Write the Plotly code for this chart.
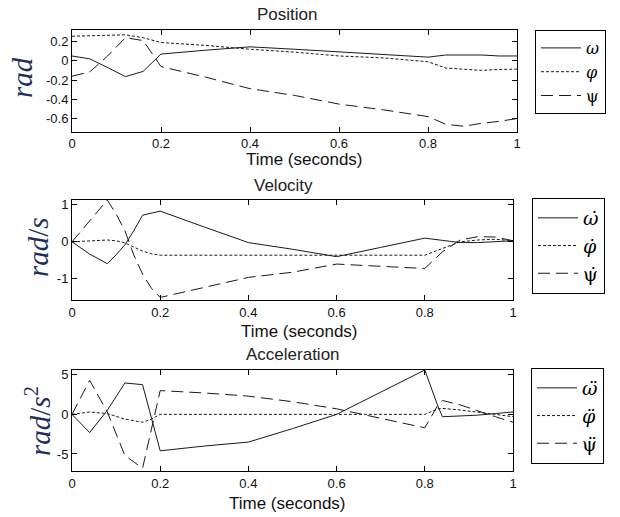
import plotly.graph_objects as go

# ---------------- data ----------------
t_pos = [0, 0.04, 0.08, 0.12, 0.16, 0.2, 0.3, 0.4, 0.5, 0.6, 0.7, 0.8, 0.84, 0.88, 0.92, 0.96, 1.0]
omega = [0.05, 0.02, -0.07, -0.165, -0.11, 0.07, 0.11, 0.145, 0.12, 0.095, 0.07, 0.038, 0.06, 0.06, 0.06, 0.05, 0.05]
phi = [0.255, 0.26, 0.27, 0.27, 0.24, 0.19, 0.16, 0.12, 0.09, 0.05, 0.03, -0.01, -0.075, -0.085, -0.1, -0.09, -0.087]
psi = [-0.16, -0.115, 0.05, 0.24, 0.21, -0.06, -0.17, -0.29, -0.36, -0.45, -0.51, -0.58, -0.66, -0.68, -0.65, -0.63, -0.6]

t_vel = [0, 0.04, 0.08, 0.1, 0.12, 0.14, 0.16, 0.18, 0.2, 0.3, 0.4, 0.5, 0.6, 0.7, 0.8, 0.84, 0.88, 0.92, 0.96, 1.0]
omega_d = [0, -0.33, -0.59, -0.35, -0.08, 0.3, 0.72, 0.78, 0.83, 0.4, -0.02, -0.2, -0.4, -0.15, 0.1, 0.04, -0.02, -0.02, 0.0, 0.03]
phi_d = [0, 0.03, 0.05, 0.03, -0.03, -0.14, -0.25, -0.32, -0.36, -0.36, -0.36, -0.36, -0.36, -0.36, -0.36, -0.18, 0.0, 0.05, 0.07, 0.03]
psi_d = [0, 0.57, 1.13, 0.75, 0.3, -0.35, -0.87, -1.25, -1.5, -1.23, -0.96, -0.82, -0.6, -0.66, -0.72, -0.27, 0.05, 0.14, 0.13, 0.03]

t_acc = [0, 0.04, 0.08, 0.12, 0.16, 0.18, 0.2, 0.3, 0.4, 0.5, 0.6, 0.7, 0.8, 0.83, 0.84, 0.88, 0.92, 0.96, 1.0]
omega_dd = [0, -2.3, 0.5, 3.96, 3.75, -0.4, -4.6, -4.0, -3.5, -1.8, 0.0, 2.8, 5.6, 1.0, -0.3, -0.2, -0.1, 0.1, 0.3]
phi_dd = [0, 0.3, 0.1, -0.6, -1.0, -0.6, 0.0, 0.0, 0.0, 0.0, 0.0, 0.0, 0.0, 0.7, 0.75, 0.55, 0.3, 0.0, -0.3]
psi_dd = [0, 4.3, 0.3, -5.2, -6.8, -2.0, 3.0, 2.7, 2.3, 1.6, 0.7, -0.5, -1.7, 1.2, 1.75, 1.2, 0.4, -0.3, -1.0]

x_ticks = [0, 0.2, 0.4, 0.6, 0.8, 1]
x_ticktext = ["0", "0.2", "0.4", "0.6", "0.8", "1"]
y1_ticks = [0.2, 0, -0.2, -0.4, -0.6]
y1_ticktext = ["0.2", "0", "-0.2", "-0.4", "-0.6"]
y2_ticks = [1, 0, -1]
y2_ticktext = ["1", "0", "-1"]
y3_ticks = [5, 0, -5]
y3_ticktext = ["5", "0", "-5"]

titles = ["Position", "Velocity", "Acceleration"]
xlabel = "Time (seconds)"
ylabels = ["<i>rad</i>", "<i>rad</i>/<i>s</i>", "<i>rad</i>/<i>s</i><sup>2</sup>"]
names1 = ["<i>ω</i>", "<i>φ</i>", "ψ"]
names2 = ["<i>ω\u0307</i>", "<i>φ\u0307</i>", "ψ\u0307"]
names3 = ["<i>ω\u0308</i>", "<i>φ\u0308</i>", "ψ\u0308"]

# ---------------- figure ----------------
W, H = 620, 517
def fx(px):
    return px / W
def fy(py):
    return 1 - py / H

dashes = ["solid", "3px,2px", "12px,6px"]
line_col = "#1a1a1a"

fig = go.Figure()
sets = [
    (t_pos, [omega, phi, psi], names1, "x", "y", "legend"),
    (t_vel, [omega_d, phi_d, psi_d], names2, "x2", "y2", "legend2"),
    (t_acc, [omega_dd, phi_dd, psi_dd], names3, "x3", "y3", "legend3"),
]
for t, series, names, xa, ya, lg in sets:
    for s, nm, dsh in zip(series, names, dashes):
        fig.add_trace(go.Scatter(x=t, y=s, mode="lines", name=nm,
                                 line=dict(color=line_col, width=1, dash=dsh),
                                 xaxis=xa, yaxis=ya, legend=lg))

tick_font = dict(family="Liberation Sans, Arial", size=13, color="#111")
def xaxis(dom):
    return dict(domain=dom, range=[0, 1], tickvals=x_ticks, ticktext=x_ticktext,
                showline=True, mirror="ticks", linecolor="black", linewidth=1,
                ticks="inside", ticklen=5, tickcolor="black", showgrid=False,
                zeroline=False, tickfont=tick_font, fixedrange=True)
def yaxis(dom, rng, tv, tt, anchor):
    return dict(domain=dom, range=rng, tickvals=tv, ticktext=tt, anchor=anchor,
                showline=True, mirror="ticks", linecolor="black", linewidth=1,
                ticks="inside", ticklen=5, tickcolor="black", showgrid=False,
                zeroline=False, tickfont=tick_font, fixedrange=True)

leg_family = "DejaVu Serif, Liberation Serif"
legend_common = dict(xanchor="left", yanchor="top", bordercolor="black", borderwidth=1,
                     bgcolor="white", tracegroupgap=0, itemwidth=40,
                     font=dict(family=leg_family, size=19, color="black"))

fig.update_layout(
    width=W, height=H, margin=dict(l=0, r=0, t=0, b=0, autoexpand=False),
    paper_bgcolor="white", plot_bgcolor="white",
    xaxis=xaxis([fx(72), fx(517)]) | dict(anchor="y"),
    yaxis=yaxis([fy(131.5), fy(30)], [-0.735, 0.32], y1_ticks, y1_ticktext, "x"),
    xaxis2=xaxis([fx(72), fx(513)]) | dict(anchor="y2"),
    yaxis2=yaxis([fy(300), fy(200)], [-1.57, 1.13], y2_ticks, y2_ticktext, "x2"),
    xaxis3=xaxis([fx(72), fx(513)]) | dict(anchor="y3"),
    yaxis3=yaxis([fy(471), fy(370)], [-7.15, 5.6], y3_ticks, y3_ticktext, "x3"),
    legend=legend_common | dict(x=fx(535), y=fy(30), font=dict(family=leg_family, size=16, color="black")),
    legend2=legend_common | dict(x=fx(532), y=fy(198)),
    legend3=legend_common | dict(x=fx(531), y=fy(368)),
    showlegend=True,
)

ann = []
title_pos = [(287, 15), (283, 185), (293, 354)]
xlab_pos = [(304, 159), (299, 331), (287, 503)]
ylab_pos = [(22, 78), (38, 247), (38, 421)]
for i in range(3):
    ann.append(dict(text=titles[i], x=fx(title_pos[i][0]), y=fy(title_pos[i][1]), xref="paper", yref="paper",
                    xanchor="center", yanchor="middle", showarrow=False,
                    font=dict(family="Liberation Sans, Arial", size=17, color="#222")))
    ann.append(dict(text=xlabel, x=fx(xlab_pos[i][0]), y=fy(xlab_pos[i][1]), xref="paper", yref="paper",
                    xanchor="center", yanchor="middle", showarrow=False,
                    font=dict(family="Liberation Sans, Arial", size=17, color="#111")))
    ann.append(dict(text=ylabels[i], x=fx(ylab_pos[i][0]), y=fy(ylab_pos[i][1]), xref="paper", yref="paper",
                    xanchor="center", yanchor="middle", showarrow=False, textangle=-90,
                    font=dict(family="Liberation Serif, DejaVu Serif", size=29, color="#1F2F5C")))
fig.update_layout(annotations=ann)

fig.write_html("out.html")
